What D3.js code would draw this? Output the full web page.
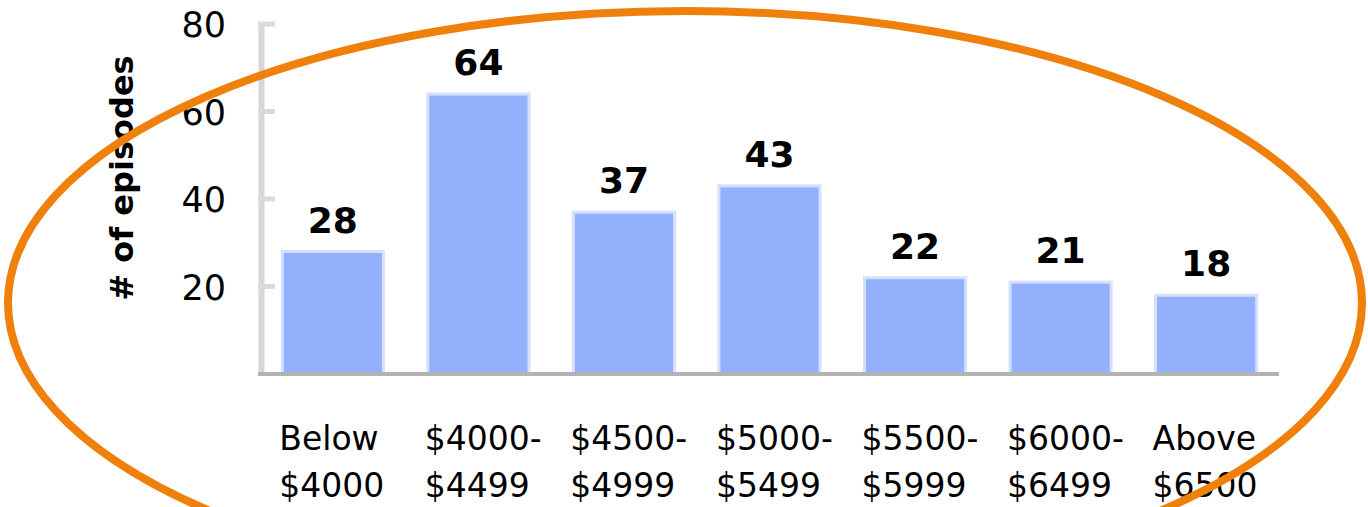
<!DOCTYPE html>
<html><head><meta charset="utf-8">
<script src="https://cdn.jsdelivr.net/npm/d3@7"></script>
<style>html,body{margin:0;padding:0;background:#fff;}svg{display:block;}</style>
</head><body>
<svg id="c" width="1368" height="507"></svg>
<script>
const categories = [["Below","$4000"],["$4000-","$4499"],["$4500-","$4999"],["$5000-","$5499"],["$5500-","$5999"],["$6000-","$6499"],["Above","$6500"]];
const values = [28, 64, 37, 43, 22, 21, 18];
const yTicks = [20, 40, 60, 80];
const yTitle = "# of episodes";

const svg = d3.select("#c");
const font = "'DejaVu Sans', Verdana, sans-serif";

const x = d3.scaleBand().domain(d3.range(categories.length)).range([260, 1279]).paddingInner(0.305).paddingOuter(0.153);
const y = d3.scaleLinear().domain([0, 80]).range([374, 24]);

// y axis line
svg.append("line").attr("x1", 261.5).attr("x2", 261.5).attr("y1", 22).attr("y2", 376)
  .attr("stroke", "#d6d6d6").attr("stroke-width", 6);
// tick marks (inward)
svg.selectAll("line.tk").data(yTicks).join("line").attr("class","tk")
  .attr("x1", 258).attr("x2", 275).attr("y1", d => y(d)).attr("y2", d => y(d))
  .attr("stroke", "#dadada").attr("stroke-width", 5);
// tick labels
svg.selectAll("text.yl").data(yTicks).join("text").attr("class","yl")
  .attr("x", 226).attr("y", d => y(d) + 13).attr("text-anchor", "end")
  .attr("font-family", font).attr("font-size", 35).attr("fill", "#000").text(d => d);

// bars
svg.selectAll("rect.bar").data(values).join("rect").attr("class","bar")
  .attr("x", (d,i) => x(i)).attr("width", x.bandwidth())
  .attr("y", d => y(d)).attr("height", d => y(0) - y(d))
  .attr("fill", "#93b0fd").attr("stroke", "#d4e0fe").attr("stroke-width", 3);

// x axis line
svg.append("line").attr("x1", 258).attr("x2", 1279).attr("y1", 374).attr("y2", 374)
  .attr("stroke", "#b3b3b3").attr("stroke-width", 4);

// data labels
svg.selectAll("text.vl").data(values).join("text").attr("class","vl")
  .attr("x", (d,i) => x(i) + x.bandwidth()/2).attr("y", d => y(d) - 19)
  .attr("text-anchor", "middle").attr("font-family", font).attr("font-weight", "bold")
  .attr("font-size", 36).attr("fill", "#000").text(d => d);

// category labels
const cl = svg.selectAll("text.cl").data(categories).join("text").attr("class","cl")
  .attr("font-family", font).attr("font-size", 33).attr("fill", "#000");
cl.each(function(d, i) {
  const t = d3.select(this);
  d.forEach((line, j) => {
    t.append("tspan").attr("x", x(i) - 3).attr("y", 450 + j * 47).text(line);
  });
});

// y title
svg.append("text").attr("transform", "translate(133,178) rotate(-90)")
  .attr("text-anchor", "middle").attr("font-family", font).attr("font-weight", "bold")
  .attr("font-size", 32).attr("fill", "#000").text(yTitle);

// orange ellipse
svg.append("ellipse").attr("cx", 685).attr("cy", 303).attr("rx", 677).attr("ry", 292)
  .attr("fill", "none").attr("stroke", "#ef800b").attr("stroke-width", 8);
</script>
</body></html>
